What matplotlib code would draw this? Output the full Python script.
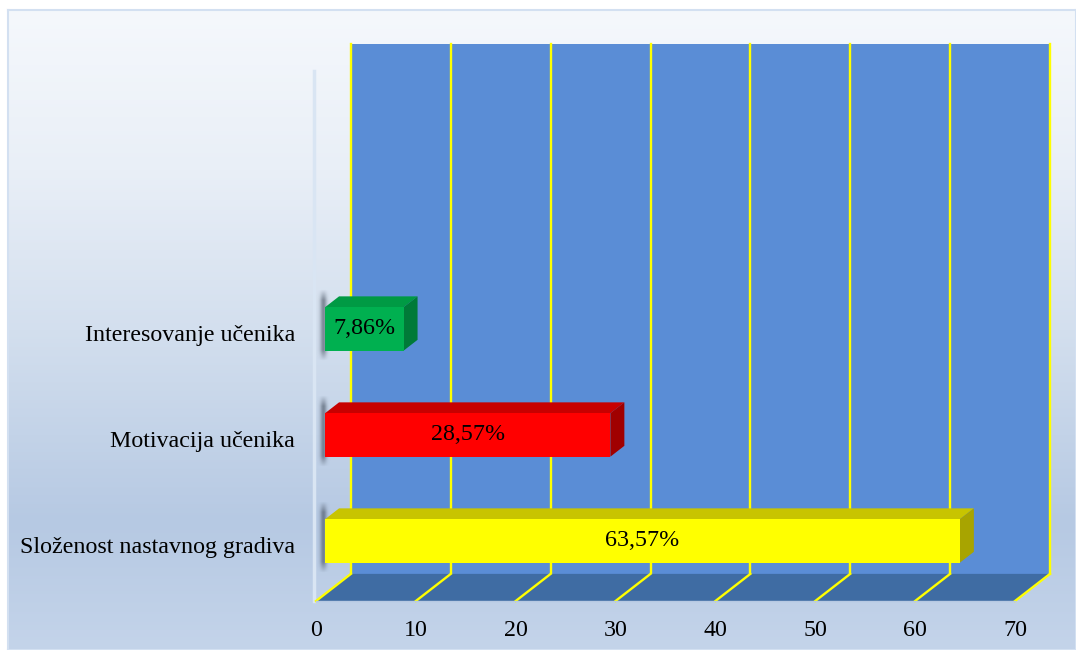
import matplotlib
matplotlib.use("Agg")
import matplotlib.pyplot as plt
import numpy as np
from matplotlib.patches import Polygon, Rectangle
from matplotlib.colors import LinearSegmentedColormap

# ---- data ----
categories = ["Složenost nastavnog gradiva", "Motivacija učenika", "Interesovanje učenika"]
values = [63.57, 28.57, 7.86]
value_labels = ["63,57%", "28,57%", "7,86%"]
x_ticks = [0, 10, 20, 30, 40, 50, 60, 70]
front_colors = ["#ffff00", "#ff0000", "#00b050"]
top_colors = ["#c8c400", "#c80000", "#009a44"]
side_colors = ["#a8a400", "#a00000", "#007a38"]

plt.rcParams['font.family'] = ['Liberation Serif', 'DejaVu Serif']
FS = 17.3

W, H = 1076, 650
fig = plt.figure(figsize=(W / 100, H / 100), dpi=100)

# background panel with gradient
bg = fig.add_axes([8 / W, 0, 1 - 8 / W, 640 / H])
grad = np.linspace(0, 1, 256).reshape(-1, 1)
cmap = LinearSegmentedColormap.from_list(
    'bg', [(0.0, '#f5f8fc'), (0.25, '#e9eff7'), (0.5, '#d3dfee'), (0.8, '#b6c9e3'), (1.0, '#c4d4ea')])
bg.imshow(grad, aspect='auto', cmap=cmap, extent=[0, 1, 0, 1], origin='upper')
bg.set_xticks([])
bg.set_yticks([])
for s in bg.spines.values():
    s.set_color('#d3e0f1')
    s.set_linewidth(1.5)

# main axes (front plane)
ax = fig.add_axes([316 / W, (650 - 601) / H, 699 / W, 530 / H])
ax.set_xlim(0, 70)
ax.set_ylim(0, 5)
ax.axis('off')

DX, DY = 3.5, 0.256   # depth vector in data units
YMAX = 5

# back wall
ax.add_patch(Rectangle((DX, DY), 70, YMAX, fc='#5a8dd6', ec='none', clip_on=False, zorder=1))
for t in x_ticks:
    ax.plot([t + DX, t + DX], [DY, YMAX + DY], color='#ffff00', lw=1.7, clip_on=False, zorder=2)

# floor
ax.add_patch(Polygon([(0, 0), (70, 0), (70 + DX, DY), (DX, DY)], closed=True,
                     fc='#3f6ca3', ec='none', clip_on=False, zorder=2))
for t in x_ticks:
    ax.plot([t, t + DX], [0, DY], color='#ffff00', lw=1.7, clip_on=False, zorder=3)
ax.plot([0, 70], [0, 0], color='#b7c9e2', lw=1, clip_on=False, zorder=3)

# left wall edge
ax.plot([-0.25, -0.25], [0, YMAX], color='#d9e5f3', lw=2.5, clip_on=False, zorder=2)

# soft shadow image (alpha profile)
sx = np.linspace(-1, 1, 60)
sy = np.linspace(-1, 1, 80)
gx = np.exp(-(sx / 0.45) ** 2)
gy = np.clip((1 - np.abs(sy)) / 0.3, 0, 1)
alpha = 0.55 * np.outer(gy, gx)
shadow = np.zeros((80, 60, 4))
shadow[..., 0] = 0.22
shadow[..., 1] = 0.26
shadow[..., 2] = 0.32
shadow[..., 3] = alpha

# bars
f1, f2 = 0.26, 0.66
bh = 0.41
for i, (v, lab) in enumerate(zip(values, value_labels)):
    yc = i + 0.5 + f1 * DY
    x0 = f1 * DX
    yb, yt = yc - bh / 2, yc + bh / 2
    ddx, ddy = (f2 - f1) * DX, (f2 - f1) * DY
    ax.imshow(shadow, extent=[0.0, 1.5, yb - 0.1, yt + ddy + 0.06], aspect='auto',
              interpolation='bilinear', zorder=3, clip_on=False)
    ax.add_patch(Polygon([(x0, yt), (x0 + v, yt), (x0 + v + ddx, yt + ddy), (x0 + ddx, yt + ddy)],
                         closed=True, fc=top_colors[i], ec='none', clip_on=False, zorder=5))
    ax.add_patch(Polygon([(x0 + v, yb), (x0 + v, yt), (x0 + v + ddx, yt + ddy), (x0 + v + ddx, yb + ddy)],
                         closed=True, fc=side_colors[i], ec='none', clip_on=False, zorder=5))
    ax.add_patch(Rectangle((x0, yb), v, bh, fc=front_colors[i], ec='none', clip_on=False, zorder=6))
    ax.text(x0 + v / 2, yc, lab, ha='center', va='center', fontsize=FS, color='black', zorder=7)
    ax.text(-2.1, i + 0.5, categories[i], ha='right', va='center', fontsize=FS, color='black')

ax.set_xlim(0, 70)
ax.set_ylim(0, 5)

for t in x_ticks:
    ax.text(t, -0.28, str(t), ha='center', va='center', fontsize=FS, color='black')

fig.savefig('out.png', dpi=100)
